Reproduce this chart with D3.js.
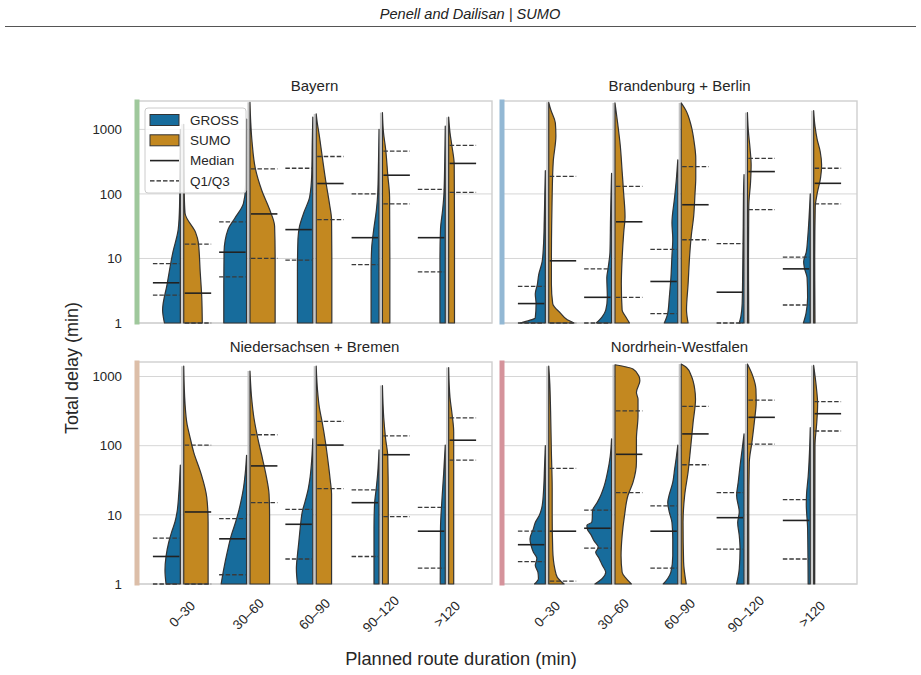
<!DOCTYPE html>
<html><head><meta charset="utf-8">
<script src="https://cdn.jsdelivr.net/npm/d3@7"></script>
<style>body{margin:0;background:#fff}</style>
</head><body><svg id="c" width="921" height="675"></svg>
<script>
const categories = ["0–30","30–60","60–90","90–120",">120"];
const regions = ["Bayern","Brandenburg + Berlin","Niedersachsen + Bremen","Nordrhein-Westfalen"];
const seriesNames = ["GROSS","SUMO"];
const yTicks = [1,10,100,1000];
const yTickLabels = ["1","10","100","1000"];

// quartiles / medians of total delay (min), per region, per duration class
const grossMedian = [[4.2,12.5,28,21,21],[2.0,2.5,4.4,3.0,6.9],[2.5,4.5,7.3,15,5.8],[3.7,6.4,5.8,9.1,8.3]];
const grossQ1     = [[2.7,5.2,9.4,8.0,6.2],[1,1,1.4,1,1.9],[1,1.36,2.3,2.5,1.7],[2.1,3.3,1.7,3.2,2.3]];
const grossQ3     = [[8.3,37,250,100,118],[3.7,6.9,13.8,17,10.5],[4.6,8.8,12,23,12.8],[5.8,11.7,13.5,21,16.6]];
const sumoMedian  = [[2.9,49,145,195,297],[9.2,37,68,222,146],[11,51,102,74,120],[5.8,75,148,257,290]];
const sumoQ1      = [[1,10,40,70,106],[1,2.5,19.5,57,70],[1,15,24,9.4,62],[1.1,21,53,105,163]];
const sumoQ3      = [[16.7,245,380,460,565],[187,131,265,355,250],[102,144,224,139,252],[47,318,370,455,435]];

// violin half profiles: [log10(total delay), relative density]
const grossShape = [
 [ // Bayern
  [[0,0.6],[0.2,0.67],[0.6,0.5],[1.1,0.28],[1.45,0.08],[1.8,0.03],[2.5,0.01],[3.0,0]],
  [[0,0.86],[0.6,0.86],[1.1,0.85],[1.45,0.7],[1.62,0.45],[1.85,0.12],[2.1,0.04],[2.6,0.02],[3.16,0]],
  [[0,0.58],[0.8,0.58],[1.3,0.56],[1.5,0.5],[1.72,0.33],[1.95,0.12],[2.3,0.04],[2.8,0.02],[3.19,0]],
  [[0,0.3],[0.8,0.3],[1.15,0.28],[1.45,0.2],[1.75,0.1],[2.0,0.05],[2.5,0.02],[3.0,0]],
  [[0,0.2],[1.0,0.2],[1.45,0.18],[1.75,0.1],[2.0,0.05],[2.5,0.02],[3.05,0]]
 ],
 [ // Brandenburg + Berlin
  [[0,0.95],[0.04,0.6],[0.08,0.38],[0.3,0.35],[0.45,0.38],[0.6,0.3],[0.75,0.25],[0.95,0.12],[1.2,0.07],[1.6,0.04],[2.0,0.02],[2.36,0]],
  [[0,0.58],[0.1,0.35],[0.2,0.22],[0.4,0.16],[0.7,0.18],[0.85,0.13],[1.1,0.06],[1.6,0.04],[2.0,0.02],[2.32,0]],
  [[0,0.51],[0.15,0.38],[0.4,0.32],[0.7,0.26],[1.05,0.22],[1.3,0.19],[1.55,0.22],[1.95,0.12],[2.2,0.06],[2.53,0]],
  [[0,0.18],[0.1,0.12],[0.3,0.07],[0.8,0.05],[1.5,0.03],[2.0,0.02],[2.3,0]],
  [[0,0.26],[0.15,0.16],[0.4,0.1],[0.7,0.12],[0.85,0.22],[0.95,0.25],[1.1,0.15],[1.3,0.1],[1.6,0.05],[2.0,0]]
 ],
 [ // Niedersachsen + Bremen
  [[0,0.54],[0.2,0.58],[0.4,0.54],[0.6,0.44],[0.75,0.33],[0.9,0.2],[1.05,0.12],[1.3,0.06],[1.72,0]],
  [[0,0.96],[0.22,0.86],[0.46,0.73],[0.7,0.58],[0.9,0.41],[1.05,0.3],[1.18,0.22],[1.38,0.12],[1.6,0.05],[1.86,0]],
  [[0,0.58],[0.22,0.62],[0.42,0.58],[0.6,0.53],[0.9,0.45],[1.04,0.4],[1.18,0.3],[1.38,0.17],[1.55,0.1],[1.8,0.04],[2.1,0]],
  [[0,0.19],[0.8,0.19],[1.15,0.17],[1.4,0.1],[1.6,0.05],[1.94,0]],
  [[0,0.19],[0.8,0.18],[1.25,0.12],[1.6,0.06],[2.01,0]]
 ],
 [ // Nordrhein-Westfalen
  [[0,0.41],[0.08,0.26],[0.17,0.28],[0.27,0.38],[0.37,0.32],[0.46,0.45],[0.56,0.54],[0.65,0.58],[0.8,0.45],[0.89,0.38],[0.99,0.23],[1.13,0.12],[1.4,0.06],[1.7,0.03],[2.0,0]],
  [[0,0.63],[0.08,0.35],[0.17,0.22],[0.27,0.35],[0.37,0.47],[0.46,0.6],[0.53,0.5],[0.63,0.67],[0.7,0.76],[0.8,0.92],[0.85,0.93],[0.89,0.75],[0.94,0.73],[1.06,0.72],[1.18,0.54],[1.28,0.41],[1.38,0.31],[1.47,0.24],[1.62,0.15],[1.85,0.05],[2.1,0]],
  [[0,0.55],[0.08,0.38],[0.17,0.26],[0.41,0.19],[0.65,0.19],[0.89,0.22],[1.04,0.32],[1.18,0.38],[1.28,0.33],[1.47,0.19],[1.66,0.12],[1.85,0.05],[2.01,0]],
  [[0,0.28],[0.22,0.18],[0.51,0.15],[0.7,0.18],[0.89,0.24],[1.04,0.18],[1.28,0.28],[1.47,0.22],[1.71,0.15],[1.95,0.07],[2.17,0]],
  [[0,0.08],[0.8,0.1],[1.15,0.15],[1.3,0.14],[1.55,0.08],[1.9,0.03],[2.26,0]]
 ]
];
const sumoShape = [
 [ // Bayern
  [[0,0.7],[0.4,0.68],[0.8,0.62],[1.25,0.55],[1.4,0.45],[1.7,0.05],[2.0,0.02],[3.08,0]],
  [[0,0.95],[1.0,0.95],[1.5,0.93],[1.75,0.75],[2.05,0.45],[2.4,0.2],[2.8,0.08],[3.1,0.03],[3.42,0]],
  [[0,0.59],[1.0,0.59],[1.6,0.58],[1.85,0.5],[2.2,0.36],[2.6,0.22],[2.95,0.1],[3.1,0.04],[3.24,0]],
  [[0,0.28],[1.0,0.28],[1.95,0.27],[2.3,0.2],[2.7,0.12],[2.95,0.04],[3.26,0]],
  [[0,0.22],[1.5,0.22],[2.45,0.21],[2.75,0.12],[2.95,0.05],[3.19,0]]
 ],
 [ // Brandenburg + Berlin
  [[0,0.96],[0.05,0.7],[0.15,0.45],[0.3,0.15],[0.6,0.1],[1.0,0.1],[1.5,0.11],[2.0,0.13],[2.5,0.17],[2.9,0.27],[3.1,0.25],[3.3,0.08],[3.42,0]],
  [[0,0.55],[0.1,0.4],[0.2,0.27],[0.6,0.24],[1.0,0.27],[1.4,0.33],[1.65,0.38],[2.0,0.33],[2.35,0.27],[2.75,0.2],[3.1,0.1],[3.41,0]],
  [[0,0.26],[0.2,0.2],[0.6,0.26],[1.05,0.32],[1.35,0.38],[1.65,0.47],[2.0,0.52],[2.25,0.55],[2.55,0.55],[2.8,0.49],[3.05,0.38],[3.3,0.17],[3.41,0]],
  [[0,0.05],[1.0,0.04],[1.8,0.05],[2.2,0.12],[2.45,0.14],[2.7,0.1],[3.0,0.03],[3.26,0]],
  [[0,0.05],[1.0,0.04],[1.8,0.06],[2.0,0.13],[2.25,0.26],[2.45,0.3],[2.65,0.25],[2.85,0.13],[3.05,0.05],[3.29,0]]
 ],
 [ // Niedersachsen + Bremen
  [[0,0.92],[0.9,0.92],[1.25,0.87],[1.6,0.65],[1.9,0.38],[2.15,0.22],[2.3,0.13],[2.6,0.05],[3.15,0]],
  [[0,0.74],[1.0,0.74],[1.3,0.72],[1.55,0.62],[1.8,0.48],[2.1,0.3],[2.4,0.15],[2.7,0.06],[3.08,0]],
  [[0,0.58],[1.3,0.58],[1.5,0.53],[1.7,0.47],[2.05,0.35],[2.35,0.22],[2.55,0.12],[2.8,0.05],[3.15,0]],
  [[0,0.22],[1.2,0.22],[1.85,0.2],[2.1,0.12],[2.4,0.05],[2.87,0]],
  [[0,0.19],[2.2,0.19],[2.45,0.13],[2.7,0.05],[3.13,0]]
 ],
 [ // Nordrhein-Westfalen
  [[0,0.58],[0.1,0.32],[0.22,0.23],[0.5,0.15],[1.0,0.13],[1.4,0.13],[1.9,0.1],[2.5,0.07],[2.9,0.04],[3.15,0]],
  [[0,0.62],[0.08,0.42],[0.17,0.27],[0.41,0.23],[0.7,0.27],[0.99,0.36],[1.28,0.49],[1.47,0.68],[1.76,0.81],[2.1,0.81],[2.43,0.87],[2.67,0.87],[2.77,0.81],[2.94,0.94],[3.01,0.9],[3.11,0.68],[3.17,0]],
  [[0,0.19],[0.32,0.09],[0.89,0.07],[1.28,0.13],[1.62,0.26],[1.95,0.35],[2.34,0.45],[2.67,0.54],[2.82,0.51],[3.01,0.38],[3.13,0.2],[3.18,0]],
  [[0,0.05],[1.0,0.05],[1.76,0.07],[2.05,0.17],[2.34,0.26],[2.63,0.33],[2.82,0.32],[3.01,0.2],[3.18,0]],
  [[0,0.04],[2.0,0.05],[2.35,0.12],[2.6,0.15],[2.85,0.1],[3.16,0]]
 ]
];

// ---------------- drawing ----------------
const svg = d3.select("#c");
const FONT = "'Liberation Sans', Arial, Helvetica, sans-serif";
const TXT = "#262626";
const fillColors = {GROSS:"#176c9c", SUMO:"#c38820"};
const stripColors = ["#9fc89c","#93b8d4","#dcbea8","#d5939b"];
const panels = [
  {x0:137,x1:492,y0:101,y1:323,top:10**3.44},
  {x0:502,x1:857,y0:101,y1:323,top:10**3.44},
  {x0:137,x1:492,y0:362,y1:584,top:10**3.21},
  {x0:502,x1:857,y0:362,y1:584,top:10**3.21}
];

svg.append("rect").attr("width",921).attr("height",675).attr("fill","#fff");

// figure title
svg.append("text").attr("x",470).attr("y",18.5).attr("text-anchor","middle")
  .attr("font-family",FONT).attr("font-size",14.6).attr("font-style","italic").attr("fill","#222")
  .text("Penell and Dailisan | SUMO");
svg.append("line").attr("x1",5).attr("x2",916).attr("y1",26.5).attr("y2",26.5)
  .attr("stroke","#555").attr("stroke-width",1.2);

const area = d3.area().curve(d3.curveMonotoneY);

regions.forEach((reg, ri) => {
  const P = panels[ri];
  const g = svg.append("g");
  const x = d3.scalePoint().domain(categories).range([P.x0, P.x1]).padding(0.68);
  const y = d3.scaleLog().domain([1, P.top]).range([P.y1, P.y0]);
  const w = d3.scaleLinear().domain([0,1]).range([0, x.step()*0.4]);
  const gap = 1.7;
  const lineLen = x.step()*0.44;

  // grid
  g.selectAll("line.grid").data(yTicks).join("line")
    .attr("x1",P.x0).attr("x2",P.x1).attr("y1",d=>y(d)).attr("y2",d=>y(d))
    .attr("stroke","#d6d6d6").attr("stroke-width",1);
  // frame
  g.append("rect").attr("x",P.x0).attr("y",P.y0).attr("width",P.x1-P.x0).attr("height",P.y1-P.y0)
    .attr("fill","none").attr("stroke","#cfcfcf").attr("stroke-width",1.4);
  // colored left strip
  g.append("rect").attr("x",P.x0-2.5).attr("y",P.y0-1.5).attr("width",5).attr("height",P.y1-P.y0+3)
    .attr("fill",stripColors[ri]);

  // panel title
  g.append("text").attr("x",(P.x0+P.x1)/2).attr("y",P.y0-10).attr("text-anchor","middle")
    .attr("font-family",FONT).attr("font-size",15).attr("fill",TXT).text(reg);

  // y tick labels on left column
  if (ri % 2 === 0) {
    g.selectAll("text.yt").data(yTicks).join("text")
      .attr("x",P.x0-15).attr("y",d=>y(d)).attr("dy","0.36em").attr("text-anchor","end")
      .attr("font-family",FONT).attr("font-size",13.3).attr("fill",TXT)
      .text((d,i)=>yTickLabels[i]);
  }
  // x tick labels on bottom row
  if (ri >= 2) {
    g.selectAll("text.xt").data(categories).join("text")
      .attr("transform",d=>`translate(${x(d)},614) rotate(-45)`)
      .attr("text-anchor","middle").attr("dy","0.35em")
      .attr("font-family",FONT).attr("font-size",13.5).attr("fill",TXT).text(d=>d);
  }

  categories.forEach((cat, ci) => {
    const cx = x(cat);
    const gs = grossShape[ri][ci], ss = sumoShape[ri][ci];
    const topV = Math.max(gs[gs.length-1][0], ss[ss.length-1][0]);
    // light separator in the split gap
    g.append("line").attr("x1",cx).attr("x2",cx).attr("y1",y(1)).attr("y2",y(10**topV))
      .attr("stroke","#c4c4c4").attr("stroke-width",1.6);
    // GROSS half (left)
    g.append("path").datum(gs)
      .attr("d", area.y(d=>y(10**d[0])).x0(cx-gap).x1(d=>cx-gap-w(d[1])))
      .attr("fill",fillColors.GROSS).attr("stroke","#333").attr("stroke-width",1.2)
      .attr("stroke-linejoin","round");
    // SUMO half (right)
    g.append("path").datum(ss)
      .attr("d", area.y(d=>y(10**d[0])).x0(cx+gap).x1(d=>cx+gap+w(d[1])))
      .attr("fill",fillColors.SUMO).attr("stroke","#333").attr("stroke-width",1.2)
      .attr("stroke-linejoin","round");

    const hl = (val, side, dashed) => {
      const xa = side<0 ? cx-lineLen : cx+gap+1;
      const xb = side<0 ? cx-gap-1 : cx+lineLen;
      g.append("line").attr("x1",xa).attr("x2",xb).attr("y1",y(val)).attr("y2",y(val))
        .attr("stroke", dashed ? "#3a3a3a" : "#222")
        .attr("stroke-width", dashed ? 1.3 : 1.6)
        .attr("stroke-dasharray", dashed ? "4.5,2" : null);
    };
    hl(grossMedian[ri][ci], -1, false);
    hl(grossQ1[ri][ci], -1, true);
    hl(grossQ3[ri][ci], -1, true);
    hl(sumoMedian[ri][ci], 1, false);
    hl(sumoQ1[ri][ci], 1, true);
    hl(sumoQ3[ri][ci], 1, true);
  });

  // legend in first panel
  if (ri === 0) {
    const L = g.append("g");
    L.append("rect").attr("x",145).attr("y",108).attr("width",101).attr("height",85).attr("rx",3)
      .attr("fill","#fff").attr("fill-opacity",0.8).attr("stroke","#cccccc").attr("stroke-width",1);
    const items = [
      {label:seriesNames[0], type:"patch", color:fillColors.GROSS},
      {label:seriesNames[1], type:"patch", color:fillColors.SUMO},
      {label:"Median", type:"solid"},
      {label:"Q1/Q3", type:"dash"}
    ];
    items.forEach((it, k) => {
      const cy = 120 + k*20.3;
      if (it.type === "patch") {
        L.append("rect").attr("x",150).attr("y",cy-5.5).attr("width",29).attr("height",11)
          .attr("fill",it.color).attr("stroke","#333").attr("stroke-width",1);
      } else {
        L.append("line").attr("x1",150).attr("x2",179).attr("y1",cy).attr("y2",cy)
          .attr("stroke","#222").attr("stroke-width",it.type==="solid"?1.6:1.3)
          .attr("stroke-dasharray", it.type==="dash" ? "4.5,2" : null);
      }
      L.append("text").attr("x",190).attr("y",cy).attr("dy","0.36em")
        .attr("font-family",FONT).attr("font-size",13.5).attr("fill",TXT).text(it.label);
    });
  }
});

// axis labels
svg.append("text").attr("transform","translate(78,368) rotate(-90)").attr("text-anchor","middle")
  .attr("font-family",FONT).attr("font-size",18).attr("fill",TXT).text("Total delay (min)");
svg.append("text").attr("x",461).attr("y",665).attr("text-anchor","middle")
  .attr("font-family",FONT).attr("font-size",18.3).attr("fill",TXT).text("Planned route duration (min)");
</script></body></html>
